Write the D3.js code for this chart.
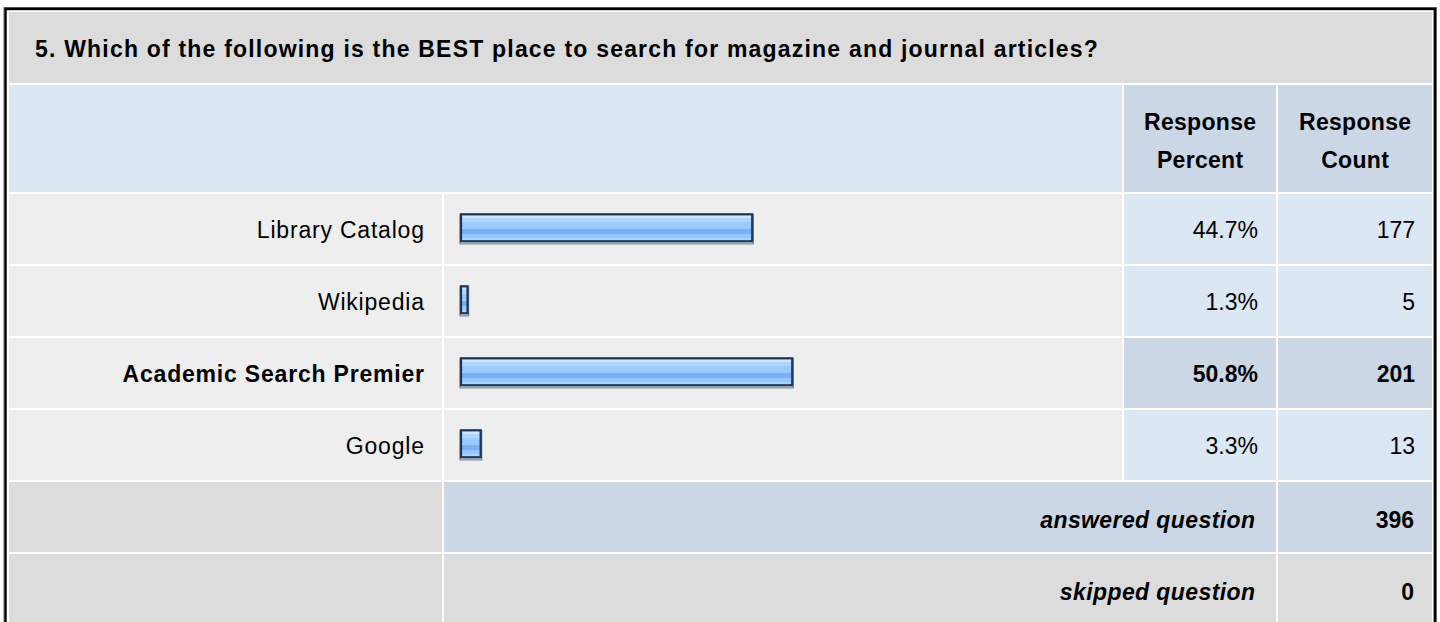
<!DOCTYPE html>
<html><head><meta charset="utf-8">
<script src="https://cdn.jsdelivr.net/npm/d3@7/dist/d3.min.js"></script>
<style>
html,body{margin:0;padding:0;background:#fff;overflow:hidden}
svg text{font-family:"Liberation Sans",Arial,sans-serif;fill:#000}
</style></head><body>
<script>
// ---- data ----
const title = "5. Which of the following is the BEST place to search for magazine and journal articles?";
const headerLabels = [["Response","Percent"],["Response","Count"]];
const categories = ["Library Catalog","Wikipedia","Academic Search Premier","Google"];
const percents = [44.7, 1.3, 50.8, 3.3];
const counts = [177, 5, 201, 13];
const summaryLabels = ["answered question","skipped question"];
const summaryValues = [396, 0];

const W = 1440, H = 622;
const svg = d3.select("body").append("svg").attr("width", W).attr("height", H);

const defs = svg.append("defs");
const grad = defs.append("linearGradient").attr("id","barGrad").attr("x1",0).attr("y1",0).attr("x2",0).attr("y2",1);
[[0,"#cbe5ff"],[0.12,"#cbe5ff"],[0.12,"#aed6ff"],[0.3,"#aed6ff"],[0.3,"#99cbff"],[0.56,"#99cbff"],
 [0.56,"#7cb0f0"],[0.72,"#7cb0f0"],[0.72,"#95c7ff"],[0.88,"#95c7ff"],[0.88,"#a9d4ff"],[1,"#a9d4ff"]]
 .forEach(([o,c])=>grad.append("stop").attr("offset",o).attr("stop-color",c));

// column edges
const cols = [[9,442],[444,1122],[1124,1276],[1278,1432]];
const rowKeys = categories.concat(summaryLabels);
const y = d3.scaleBand().domain(rowKeys).range([194, 624]).paddingInner(2/72).paddingOuter(0);
const x = d3.scaleLinear().domain([0,100]).range([0,656]);
const barX0 = 460;

const maxIdx = percents.indexOf(d3.max(percents));

const GRAY = "#dcdcdc", LIGHT = "#eeeeee", BLUE = "#dce7f4", DBLUE = "#cbd7e5";
const FS = 23, LS_TXT = 0.8, LS_NUM = 0;

function cell(x0,x1,y0,y1,fill){
  svg.append("rect").attr("x",x0).attr("y",y0).attr("width",x1-x0).attr("height",y1-y0).attr("fill",fill);
}
function label(xp, yp, t, opts){
  const o = Object.assign({anchor:"end", bold:false, italic:false, ls:LS_TXT, fs:FS}, opts||{});
  const dx = o.anchor === "end" ? o.ls : (o.anchor === "middle" ? o.ls/2 : 0);
  return svg.append("text").attr("x", xp + dx).attr("y", yp).attr("text-anchor", o.anchor)
    .attr("font-size", o.fs).attr("font-weight", o.bold ? "bold" : null)
    .attr("font-style", o.italic ? "italic" : null).style("letter-spacing", o.ls + "px").text(t);
}

// title row
cell(cols[0][0], cols[3][1], 12, 83, GRAY);
label(35, 57, title, {anchor:"start", bold:true, ls:1.2});
// header row
cell(cols[0][0], cols[1][1], 85, 192, BLUE);
cell(cols[2][0], cols[2][1], 85, 192, DBLUE);
cell(cols[3][0], cols[3][1], 85, 192, DBLUE);
headerLabels.forEach((lines,i)=>{
  const c = cols[i+2], cx = (c[0]+c[1])/2;
  lines.forEach((t,j)=> label(cx, 129.5 + j*38, t, {anchor:"middle", bold:true, ls:0.3}));
});

// data rows
categories.forEach((d,i)=>{
  const t = y(d), b = t + y.bandwidth();
  const bold = i === maxIdx;
  [[0,LIGHT],[1,LIGHT],[2,bold?DBLUE:BLUE],[3,bold?DBLUE:BLUE]].forEach(([ci,f])=> cell(cols[ci][0], cols[ci][1], t, b, f));
  const ty = t + 43.5;
  label(424, ty, d, {bold});
  label(1258, ty, percents[i].toFixed(1) + "%", {bold, ls:LS_NUM});
  label(1415, ty, counts[i], {bold, ls:LS_NUM});
  // bar
  const w = x(percents[i]);
  const by = t + 19.3, bh = 29;
  svg.append("rect").attr("x",barX0).attr("y",by+1.5).attr("width",w).attr("height",bh)
    .attr("fill","none").attr("stroke","#8a9ab0").attr("stroke-width",1.5);
  svg.append("rect").attr("x",barX0+1).attr("y",by+1).attr("width",Math.max(w-2,1)).attr("height",bh-2)
    .attr("fill","url(#barGrad)").attr("stroke","#1c3354").attr("stroke-width",2.2);
});

// summary rows
summaryLabels.forEach((lab,i)=>{
  const t = y(lab), b = t + y.bandwidth();
  const mid = i === 0 ? DBLUE : GRAY;
  cell(cols[0][0], cols[0][1], t, b, GRAY);
  cell(cols[1][0], cols[2][1], t, b, mid);
  cell(cols[3][0], cols[3][1], t, b, mid);
  const ty = t + 45.5;
  label(1255, ty, lab, {bold:true, italic:true, ls:0.4});
  label(1414, ty, summaryValues[i], {bold:true, ls:LS_NUM});
});

// outer border
svg.append("rect").attr("x",4).attr("y",7.5).attr("width",1432.5).attr("height",700)
  .attr("fill","none").attr("stroke","#666").attr("stroke-width",1);
svg.append("rect").attr("x",5.5).attr("y",9).attr("width",1429.3).attr("height",700)
  .attr("fill","none").attr("stroke","#000").attr("stroke-width",2.4);
</script>
</body></html>
